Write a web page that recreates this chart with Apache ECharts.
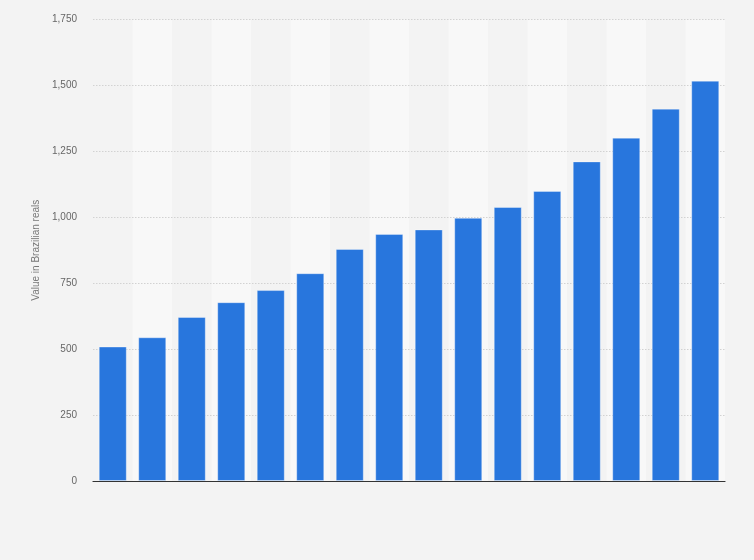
<!DOCTYPE html>
<html>
<head>
<meta charset="utf-8">
<script src="https://cdn.jsdelivr.net/npm/echarts@6/dist/echarts.min.js"></script>
<style>html,body{margin:0;padding:0;background:#f3f3f3;}#c{width:754px;height:560px;}</style>
</head>
<body>
<div id="c"></div>
<script>
const categories = ['2010','2011','2012','2013','2014','2015','2016','2017','2018','2019','2020','2021','2022','2023','2024','2025'];
const values = [510, 545, 622, 678, 724, 788, 880, 937, 954, 998, 1039, 1100, 1212, 1302, 1412, 1518];
const yTicks = { min: 0, max: 1750, interval: 250 };
const yAxisTitle = 'Value in Brazilian reals';

const chart = echarts.init(document.getElementById('c'), null, { renderer: 'canvas' });
chart.setOption({
  backgroundColor: '#f3f3f3',
  animation: false,
  grid: { left: 93, right: 29, top: 19.5, bottom: 79, containLabel: false },
  xAxis: [{
    type: 'category',
    data: categories,
    z: 3,
    axisLabel: { show: false },
    axisTick: { show: false },
    axisLine: { show: true, lineStyle: { color: '#333', width: 1.2 } },
    splitArea: { show: false },
    splitLine: { show: false }
  }, {
    type: 'category',
    data: categories,
    position: 'bottom',
    z: -1,
    axisLabel: { show: false },
    axisTick: { show: false },
    axisLine: { show: false },
    splitArea: { show: true, areaStyle: { color: ['rgba(0,0,0,0)', '#f8f8f8'] } },
    splitLine: { show: false }
  }],
  yAxis: {
    type: 'value',
    z: 1,
    min: yTicks.min, max: yTicks.max, interval: yTicks.interval,
    name: yAxisTitle,
    nameLocation: 'middle',
    nameGap: 47,
    nameTextStyle: { color: '#777', fontSize: 10, fontFamily: 'Liberation Sans, Arial, sans-serif' },
    axisLine: { show: false },
    axisTick: { show: false },
    axisLabel: {
      color: '#666', fontSize: 10, margin: 16,
      fontFamily: 'Liberation Sans, Arial, sans-serif',
      formatter: v => v.toLocaleString('en-US')
    },
    splitLine: { show: true, lineStyle: { color: '#d2d2d2', type: [1.5, 1.5], width: 1 } }
  },
  series: [{
    type: 'bar',
    data: values,
    z: 2,
    barCategoryGap: '29%',
    itemStyle: { color: '#2876dd', borderColor: 'rgba(255,255,255,0.35)', borderWidth: 1 }
  }]
});
</script>
</body>
</html>
